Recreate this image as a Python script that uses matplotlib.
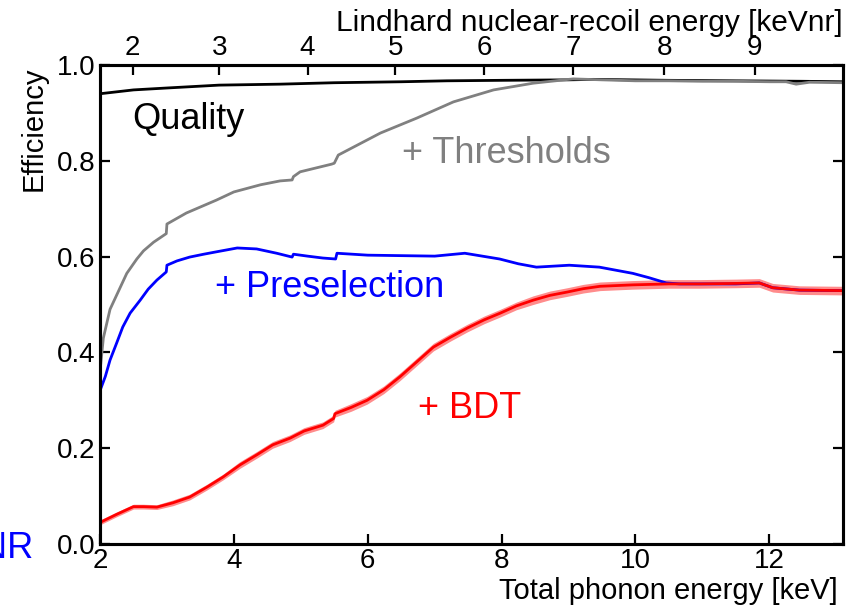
import matplotlib
matplotlib.use("Agg")
import matplotlib.pyplot as plt
import numpy as np

plt.rcParams['font.family'] = ['Liberation Sans', 'DejaVu Sans']

# quality cut efficiency (black)
quality_e = [2.0, 2.5, 3.0, 3.78, 4.69, 5.5, 6.5, 7.18, 8.0, 9.0, 9.37, 10.5, 11.5, 12.5, 13.1]
quality_eff = [0.940, 0.948, 0.952, 0.958, 0.960, 0.963, 0.965, 0.967, 0.968, 0.969, 0.970, 0.968, 0.967, 0.966, 0.965]

# + thresholds (gray)
thr_e = [2.0, 2.05, 2.1, 2.15, 2.3, 2.4, 2.55, 2.65, 2.8, 2.99, 3.0, 3.29, 3.74, 4.0, 4.4, 4.69, 4.87,
         4.89, 4.99, 5.46, 5.5, 5.56, 6.19, 6.73, 7.28, 7.88, 8.47, 9.07, 9.5, 10.0, 10.5, 11.0, 11.5,
         12.0, 12.25, 12.4, 12.6, 13.1]
thr_eff = [0.36, 0.43, 0.46, 0.49, 0.535, 0.565, 0.595, 0.612, 0.63, 0.648, 0.668, 0.691, 0.718,
           0.735, 0.750, 0.758, 0.760, 0.767, 0.777, 0.793, 0.795, 0.812, 0.858, 0.889, 0.923, 0.948,
           0.962, 0.971, 0.969, 0.967, 0.967, 0.966, 0.966, 0.965, 0.965, 0.960, 0.964, 0.963]

# + preselection (blue)
pre_e = [2.0, 2.08, 2.15, 2.25, 2.34, 2.45, 2.6, 2.72, 2.85, 2.99, 3.0, 3.15, 3.34, 3.55, 3.74, 4.05,
         4.34, 4.64, 4.87, 4.89, 5.1, 5.33, 5.52, 5.54, 6.0, 6.5, 7.0, 7.45, 7.97, 8.25, 8.52, 9.01,
         9.46, 9.96, 10.2, 10.46, 10.66, 10.96, 11.5, 11.85, 12.05, 12.45, 13.1]
pre_eff = [0.32, 0.35, 0.384, 0.42, 0.453, 0.482, 0.509, 0.532, 0.551, 0.568, 0.582, 0.591, 0.599,
           0.605, 0.61, 0.618, 0.616, 0.607, 0.599, 0.605, 0.601, 0.597, 0.595, 0.607, 0.603, 0.602,
           0.601, 0.607, 0.595, 0.585, 0.578, 0.582, 0.578, 0.565, 0.556, 0.545, 0.543, 0.543, 0.543,
           0.545, 0.535, 0.530, 0.529]

# + BDT (red) with uncertainty band
bdt_e = [2.0, 2.25, 2.5, 2.65, 2.85, 3.09, 3.34, 3.6, 3.84, 4.09, 4.34, 4.58, 4.84, 5.05, 5.33,
         5.49, 5.51, 5.75, 5.99, 6.24, 6.48, 6.73, 6.98, 7.24, 7.49, 7.74, 7.98, 8.22, 8.47, 8.72,
         8.98, 9.22, 9.47, 9.96, 10.5, 10.96, 11.5, 11.85, 12.05, 12.45, 13.1]
bdt_eff = [0.045, 0.062, 0.078, 0.078, 0.077, 0.086, 0.098, 0.119, 0.14, 0.165, 0.186, 0.207, 0.221,
           0.236, 0.248, 0.262, 0.272, 0.285, 0.30, 0.322, 0.349, 0.380, 0.411, 0.432, 0.451, 0.468,
           0.482, 0.497, 0.509, 0.519, 0.526, 0.533, 0.538, 0.541, 0.543, 0.543, 0.544, 0.545, 0.535,
           0.530, 0.529]
bdt_err = [0.005, 0.005, 0.005, 0.005, 0.005, 0.006, 0.006, 0.006, 0.006, 0.007, 0.007, 0.007, 0.007,
           0.007, 0.007, 0.007, 0.007, 0.008, 0.008, 0.008, 0.008, 0.008, 0.008, 0.008, 0.008, 0.008,
           0.008, 0.008, 0.009, 0.009, 0.009, 0.009, 0.009, 0.009, 0.009, 0.009, 0.009, 0.009, 0.009,
           0.009, 0.009]

# top axis: Lindhard nuclear-recoil energy tick labels and their phonon-energy positions
nr_labels = ['2', '3', '4', '5', '6', '7', '8', '9']
nr_pos = [2.49, 3.78, 5.10, 6.41, 7.74, 9.07, 10.43, 11.78]

fig = plt.figure(figsize=(8.61, 6.06), dpi=100)
ax = fig.add_axes([100/861, 62/606, 743/861, 479/606])

ax.plot(quality_e, quality_eff, color='black', lw=2.0)
ax.plot(thr_e, thr_eff, color='#808080', lw=2.0)
ax.plot(pre_e, pre_eff, color='#0000ff', lw=2.0)
lo = np.array(bdt_eff) - np.array(bdt_err)
hi = np.array(bdt_eff) + np.array(bdt_err)
ax.fill_between(bdt_e, lo, hi, color='#ff0000', alpha=0.45, lw=0)
ax.plot(bdt_e, bdt_eff, color='#ff0000', lw=2.0)

ax.set_xlim(2, 13.1)
ax.set_ylim(0, 1.0)
ax.set_xticks([2, 4, 6, 8, 10, 12])
ax.set_yticks([0, 0.2, 0.4, 0.6, 0.8, 1.0])
ax.set_yticklabels(['0.0', '0.2', '0.4', '0.6', '0.8', '1.0'])
ax.tick_params(direction='in', length=7, width=1.6, labelsize=20, pad=3,
               bottom=True, left=True, right=True, top=False)
for s in ax.spines.values():
    s.set_linewidth(2.2)

ax.set_xlabel('Total phonon energy [keV]', fontsize=21, ha='right', va='top')
ax.xaxis.set_label_coords(0.993, -0.069)
ax.set_ylabel('Efficiency', fontsize=21, ha='right', va='bottom')
ax.yaxis.set_label_coords(-0.071, 0.996)

ax2 = ax.twiny()
ax2.set_xlim(ax.get_xlim())
ax2.set_xticks(nr_pos)
ax2.set_xticklabels(nr_labels)
ax2.tick_params(direction='in', length=7, width=1.6, labelsize=20, pad=3)
ax2.set_xlabel('Lindhard nuclear-recoil energy [keVnr]', fontsize=21.5, ha='right', va='bottom')
ax2.xaxis.set_label_coords(0.999, 1.058)
for s in ax2.spines.values():
    s.set_linewidth(2.2)

ax.text(2.48, 0.866, 'Quality', color='black', fontsize=26, va='baseline')
ax.text(6.51, 0.795, '+ Thresholds', color='#808080', fontsize=26, va='baseline')
ax.text(3.72, 0.516, '+ Preselection', color='#0000ff', fontsize=26, va='baseline')
ax.text(6.75, 0.263, '+ BDT', color='#ff0000', fontsize=26, va='baseline')

fig.text(-19/861, 48/606, 'NR', color='#0000ff', fontsize=26, va='baseline', ha='left')

fig.savefig('out.png', dpi=100)
